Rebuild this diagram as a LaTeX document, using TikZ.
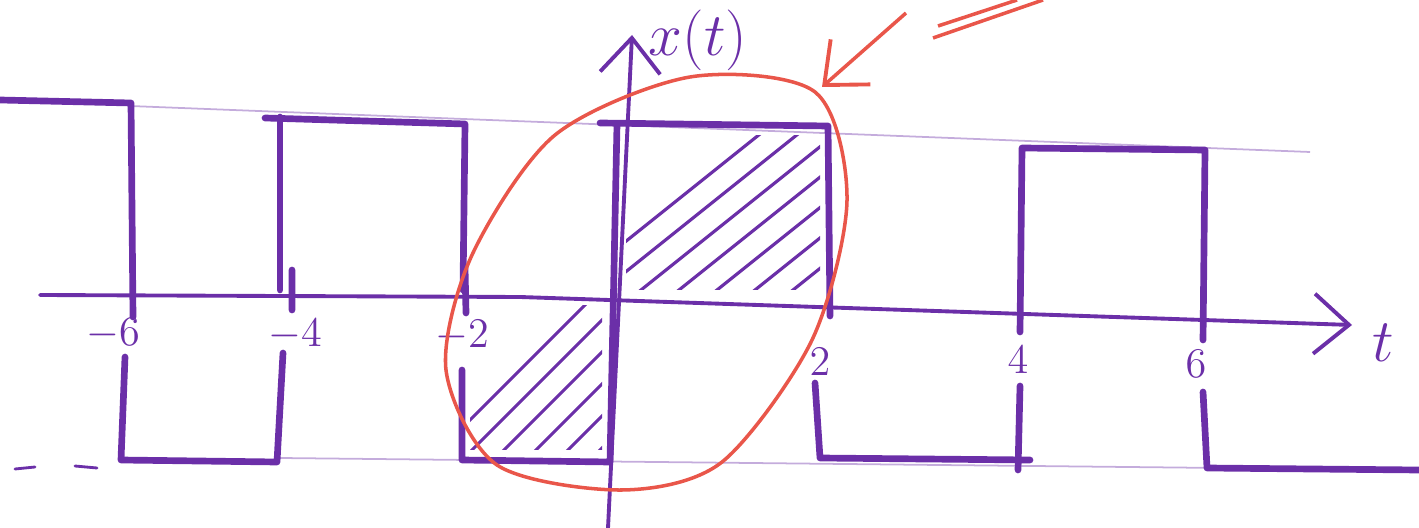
\documentclass[tikz,border=0pt]{standalone}
\usepackage{tikz}
\usetikzlibrary{arrows.meta}
\definecolor{cInk}{HTML}{6B2FA8}
\definecolor{cPen}{HTML}{E9564A}
\tikzset{
  x=0.01cm, y=-0.01cm,
  wave/.style ={draw=cInk, line width=1.9pt, line cap=round, line join=round},
  ax/.style   ={draw=cInk, line width=1.1pt, line cap=round},
  barb/.style ={-{Straight Barb[length=3.5mm,width=6mm,line width=1.1pt]}},
  guide/.style={draw=cInk!40, line width=0.5pt},
  hatch/.style={draw=cInk, line width=0.9pt, line cap=round},
  ring/.style ={draw=cPen, line width=1pt},
  num/.style  ={text=cInk, font=\fontsize{13}{15}\selectfont, inner sep=0pt},
  lbl/.style  ={text=cInk, font=\fontsize{17}{19}\selectfont, inner sep=0pt},
}
\begin{document}
\begin{tikzpicture}
  \useasboundingbox (0,0) rectangle (1419,528);
  % faint guide lines
  \draw[guide](130,106)--(1310,152);
  \draw[guide](280,458)--(1410,470);
  \draw[ax,line width=0.8pt](15,469)--(35,467) (75,466)--(97,468);
  % axes
  \coordinate (xs) at (40,295);
  \coordinate (xk) at (520,297);
  \coordinate (xe) at (1352,325);
  \coordinate (ys) at (608,528);
  \coordinate (ye) at (632,35);
  \draw[ax,barb](xs)--(xk)--(xe);
  \draw[ax,barb](ys)--(ye);
  \node[lbl,anchor=west] (xt) at (648,40) {$x(t)$};
  \node[lbl] (tt) at (1383,343) {$t$};
  % square wave
  \draw[wave](0,100)--(131,103)--(133,317);
  \draw[wave](125,357)--(121,460)--(277,462)--(283,353);
  \draw[wave](280,290)--(280,117);
  \draw[wave](265,118)--(465,124)--(463,290);
  \draw[wave](292,270)--(292,310) (465,267)--(466,313);
  \draw[wave](462,370)--(462,460)--(610,462)--(617,124);
  \draw[wave](600,123)--(828,126)--(830,316);
  \draw[wave](815,383)--(820,458)--(1030,460);
  \draw[wave](1018,470)--(1020,386);
  \draw[wave](1020,332)--(1022,148)--(1205,150)--(1203,340);
  \draw[wave](1203,392)--(1207,468)--(1419,470);
  % hatching
  \begin{scope}
    \clip (626,136) rectangle (820,290);
    \foreach \k in {0,...,11} \draw[hatch](540+\k*38,310)--++(240,-192);
  \end{scope}
  \begin{scope}
    \clip (470,306) rectangle (602,450);
    \foreach \k in {0,...,8} \draw[hatch](420+\k*32,470)--++(170,-170);
  \end{scope}
  % tick labels
  \node[num] (m6) at (113,334) {$-6$};
  \node[num] (m4) at (295,335) {$-4$};
  \node[num] (m2) at (462,336) {$-2$};
  \node[num] (p2) at (820,362) {$2$};
  \node[num] (p4) at (1018,360) {$4$};
  \node[num] (p6) at (1196,364) {$6$};
  % red marking
  \draw[ring] plot[smooth cycle] coordinates {(690,77) (815,92) (847,200) (812,340)
    (722,462) (622,490) (497,465) (446,370) (472,255) (555,135)};
  \coordinate (as) at (906,13);
  \coordinate (ae) at (822,87);
  \draw[ring,barb](as)--(ae);
  \draw[ring](938,26)--(1017,0) (933,38)--(1043,0);
\end{tikzpicture}
\end{document}
